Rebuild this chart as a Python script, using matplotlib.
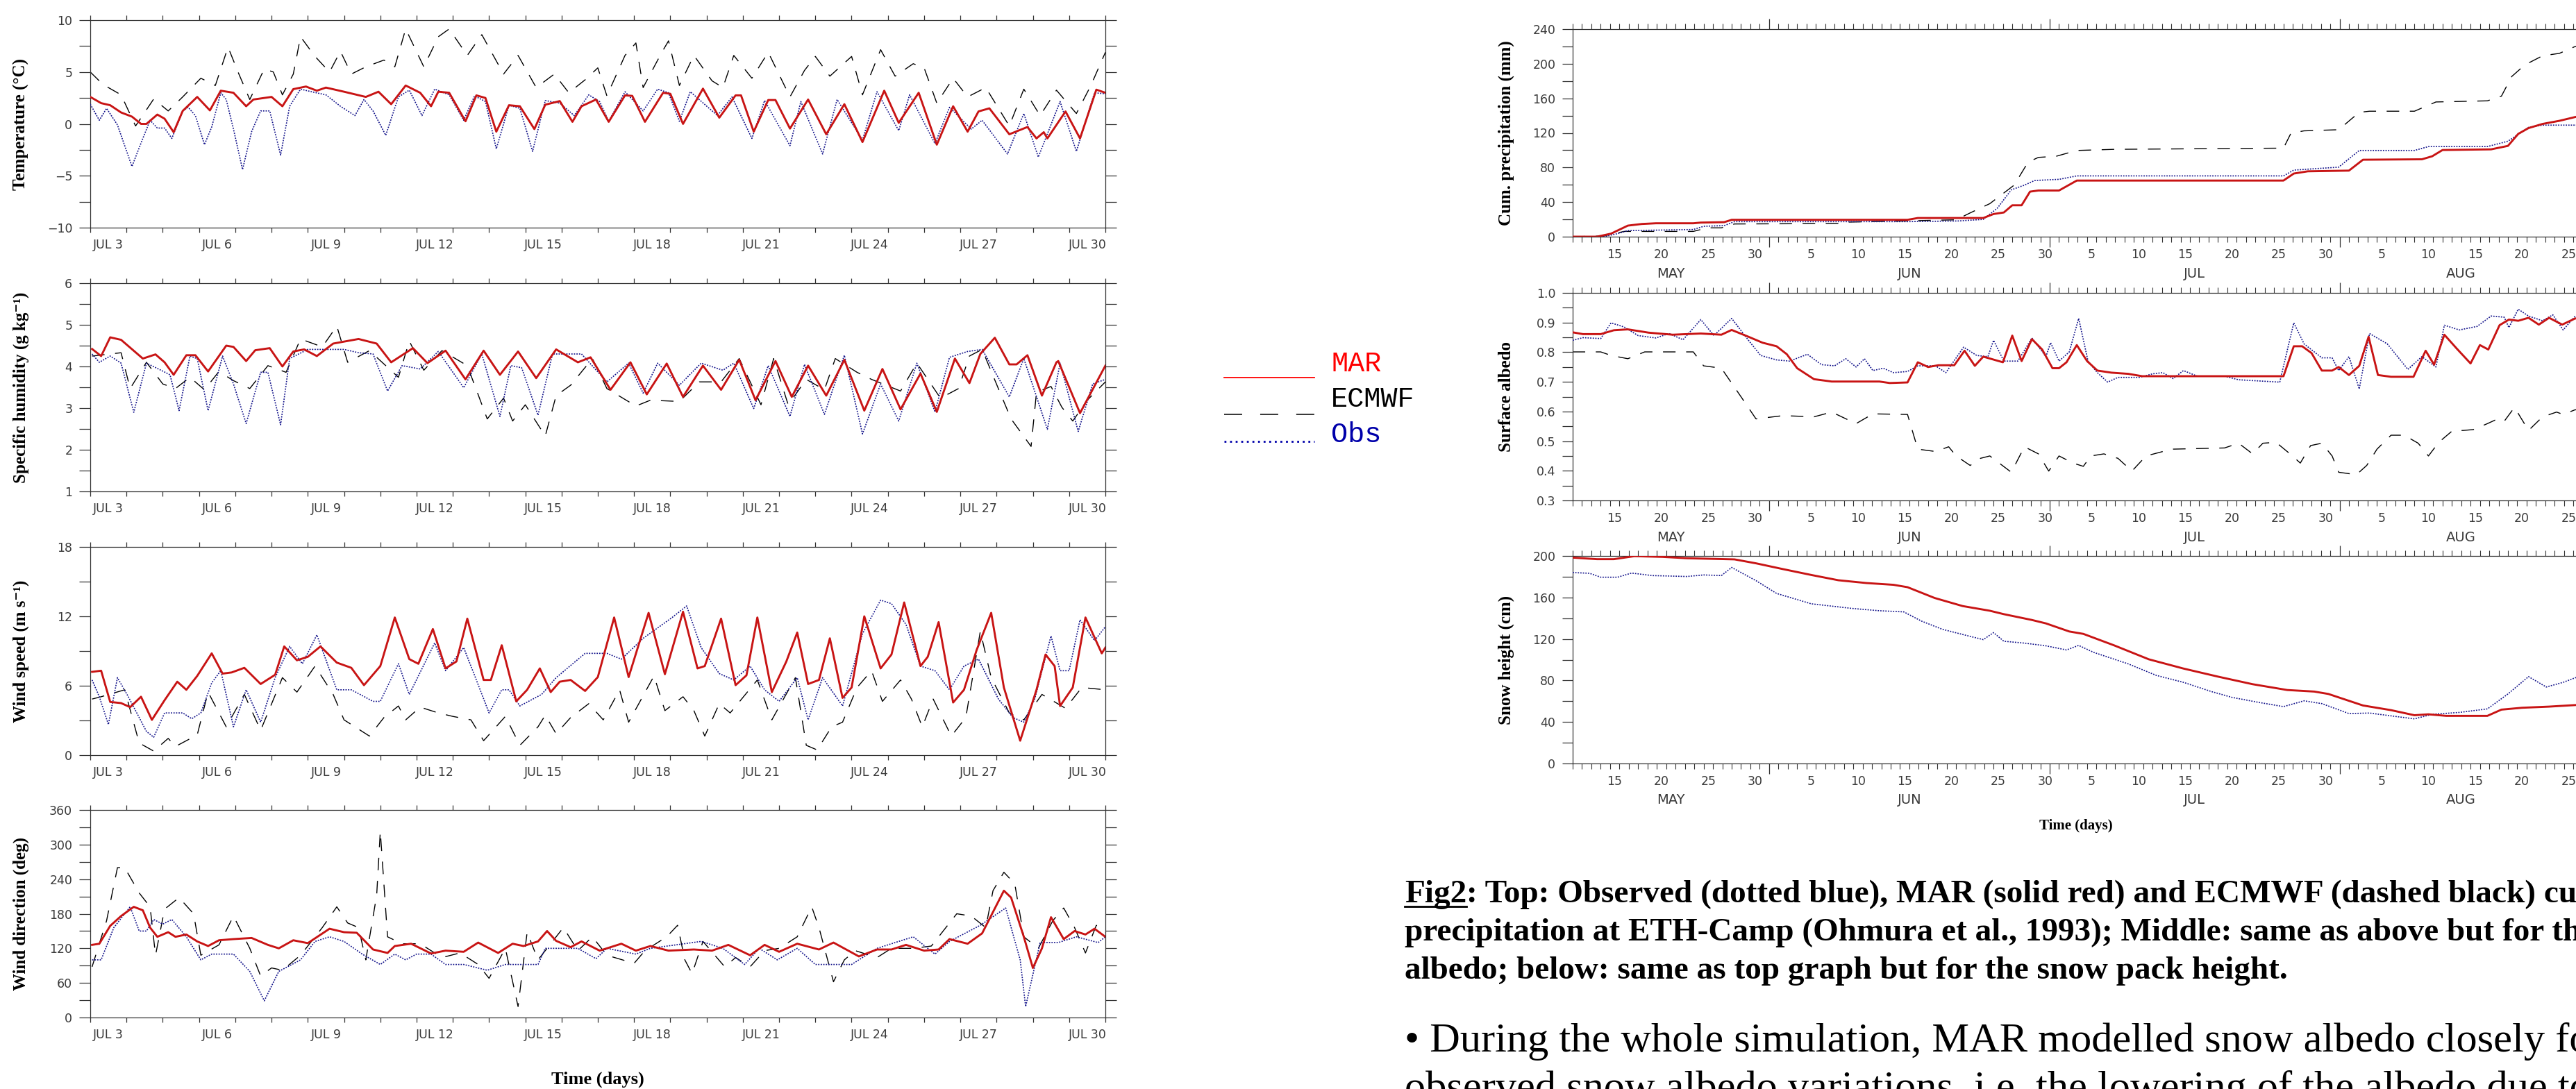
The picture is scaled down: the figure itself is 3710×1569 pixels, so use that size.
import matplotlib
matplotlib.use("Agg")
import matplotlib.pyplot as plt
from matplotlib.lines import Line2D
import numpy as np

# ---------------------------------------------------------------
# left column: July time series, (day of July, value)
# ---------------------------------------------------------------
temp_mar = [(3.0, 2.6), (3.3, 2.0), (3.55, 1.8), (3.85, 1.1), (4.15, 0.7), (4.4, 0.0), (4.55, 0.0),
            (4.85, 0.9), (5.05, 0.5), (5.3, -0.8), (5.55, 1.25), (5.95, 2.6), (6.3, 1.3), (6.6, 3.2),
            (6.95, 3.0), (7.3, 1.7), (7.5, 2.35), (8.0, 2.6), (8.3, 1.7), (8.6, 3.35), (8.95, 3.6),
            (9.25, 3.2), (9.5, 3.5), (10.0, 3.1), (10.6, 2.6), (10.95, 3.1), (11.3, 1.9), (11.7, 3.7),
            (12.1, 3.0), (12.4, 1.7), (12.6, 3.1), (12.9, 3.0), (13.35, 0.25), (13.65, 2.75), (13.9, 2.5),
            (14.2, -0.75), (14.55, 1.8), (14.85, 1.7), (15.25, -0.5), (15.55, 1.85), (15.95, 2.2),
            (16.3, 0.2), (16.55, 1.7), (16.95, 2.35), (17.3, 0.2), (17.75, 2.75), (17.95, 2.7),
            (18.3, 0.2), (18.8, 3.0), (19.0, 2.9), (19.35, 0.0), (19.9, 3.4), (20.35, 0.6), (20.8, 2.75),
            (20.95, 2.75), (21.3, -0.75), (21.7, 2.3), (21.9, 2.3), (22.3, -0.45), (22.8, 2.35),
            (23.3, -1.0), (23.8, 1.9), (24.3, -1.75), (24.9, 3.2), (25.3, 0.1), (25.85, 3.0), (26.35, -2.0),
            (26.8, 1.7), (27.2, -0.75), (27.5, 1.2), (27.8, 1.5), (28.35, -1.0), (28.85, -0.3),
            (29.1, -1.4), (29.3, -0.8), (29.4, -1.4), (29.9, 1.2), (30.3, -1.4), (30.75, 3.3), (31.0, 3.0)]
temp_obs = [(3.0, 1.9), (3.25, 0.35), (3.45, 1.5), (3.75, -0.1), (4.15, -4.1), (4.45, -1.4), (4.65, 0.35),
            (4.85, -0.4), (5.05, -0.4), (5.25, -1.4), (5.55, 1.25), (5.7, 1.6), (5.9, 0.8), (6.15, -2.0),
            (6.35, -0.3), (6.6, 3.0), (6.75, 2.35), (6.95, -0.5), (7.2, -4.4), (7.45, -0.75), (7.7, 1.25),
            (7.95, 1.25), (8.25, -3.0), (8.5, 1.7), (8.8, 3.35), (9.1, 3.1), (9.5, 2.8), (9.9, 1.7),
            (10.3, 0.8), (10.55, 2.35), (10.8, 1.25), (11.15, -1.1), (11.5, 2.6), (11.8, 3.25), (12.15, 0.8),
            (12.5, 3.35), (12.9, 2.8), (13.3, 0.35), (13.6, 2.7), (13.9, 2.15), (14.2, -2.4), (14.55, 1.8),
            (14.85, 1.5), (15.2, -2.65), (15.55, 2.25), (15.95, 2.0), (16.35, 0.8), (16.75, 2.8),
            (17.05, 2.15), (17.3, 0.25), (17.75, 3.1), (18.25, 1.25), (18.65, 3.35), (18.95, 3.0),
            (19.25, 0.25), (19.55, 3.1), (20.3, 0.8), (20.7, 2.6), (21.25, -1.4), (21.6, 2.25), (22.3, -2.1),
            (22.6, 2.15), (23.2, -2.9), (23.6, 2.35), (24.3, -1.55), (24.7, 3.1), (25.3, -0.65), (25.6, 2.8),
            (26.3, -1.9), (26.7, 1.6), (27.3, -0.5), (27.6, 0.35), (28.3, -2.9), (28.75, 1.0), (29.15, -3.2),
            (29.75, 2.15), (30.2, -2.65), (30.7, 3.0), (31.0, 2.9)]
temp_ecmwf = [(3.0, 5.0), (3.35, 3.8), (3.85, 2.8), (4.25, -0.2), (4.75, 2.4), (5.15, 1.25), (5.55, 2.6),
              (6.05, 4.4), (6.45, 3.7), (6.8, 7.4), (7.1, 4.8), (7.4, 2.35), (7.8, 5.3), (8.05, 5.0),
              (8.3, 2.8), (8.6, 4.8), (8.8, 8.4), (9.2, 6.5), (9.6, 5.0), (9.9, 7.0), (10.2, 4.8), (10.6, 5.5),
              (11.1, 6.15), (11.4, 5.5), (11.7, 9.15), (12.2, 5.5), (12.6, 8.4), (12.9, 9.15), (13.4, 6.6),
              (13.8, 8.6), (14.4, 4.8), (14.8, 6.6), (15.3, 3.5), (15.8, 4.8), (16.2, 3.0), (16.65, 4.25),
              (17.0, 5.4), (17.25, 2.7), (17.75, 6.6), (18.05, 7.8), (18.25, 3.5), (18.75, 6.8), (18.95, 8.0),
              (19.25, 3.7), (19.65, 6.6), (20.15, 4.15), (20.45, 3.5), (20.75, 6.6), (21.25, 4.4), (21.7, 6.9),
              (22.3, 2.6), (22.7, 5.15), (23.0, 6.5), (23.4, 4.6), (24.0, 6.5), (24.3, 2.8), (24.8, 7.15),
              (25.2, 4.6), (25.7, 5.8), (26.0, 5.4), (26.35, 2.0), (26.8, 4.4), (27.2, 2.6), (27.7, 3.5),
              (28.35, -0.2), (28.75, 3.35), (29.2, 0.8), (29.65, 3.25), (30.2, 1.0), (30.6, 3.7), (31.0, 6.9)]

hum_mar = [(3.05, 4.42), (3.3, 4.25), (3.55, 4.7), (3.85, 4.64), (4.45, 4.19), (4.8, 4.29), (5.05, 4.1),
           (5.3, 3.8), (5.65, 4.27), (5.9, 4.27), (6.25, 3.88), (6.75, 4.5), (6.95, 4.47), (7.3, 4.13),
           (7.55, 4.39), (7.95, 4.44), (8.3, 4.0), (8.6, 4.36), (8.9, 4.41), (9.25, 4.25), (9.7, 4.55),
           (10.4, 4.66), (10.9, 4.55), (11.3, 4.1), (11.9, 4.44), (12.3, 4.08), (12.8, 4.38), (13.35, 3.69),
           (13.85, 4.38), (14.3, 3.8), (14.8, 4.36), (15.3, 3.72), (15.85, 4.41), (16.45, 4.1), (16.8, 4.22),
           (17.35, 3.44), (17.9, 4.1), (18.35, 3.33), (18.9, 4.07), (19.35, 3.27), (19.9, 4.02),
           (20.4, 3.44), (20.9, 4.16), (21.35, 3.19), (21.9, 4.13), (22.35, 3.27), (22.8, 4.02),
           (23.3, 3.3), (23.8, 4.16), (24.35, 2.94), (24.85, 3.94), (25.35, 2.97), (25.9, 3.83),
           (26.35, 2.91), (26.85, 4.19), (27.25, 3.6), (27.55, 4.3), (27.95, 4.69), (28.35, 4.05),
           (28.55, 4.05), (28.85, 4.27), (29.25, 3.3), (29.65, 4.1), (29.7, 4.13), (30.3, 2.88), (31.0, 4.02)]
hum_obs = [(3.05, 4.3), (3.25, 4.1), (3.55, 4.25), (3.85, 4.08), (4.2, 2.9), (4.55, 4.08), (4.95, 3.91),
           (5.2, 3.8), (5.45, 2.94), (5.75, 4.25), (5.95, 4.19), (6.25, 2.94), (6.65, 4.25), (6.95, 3.58),
           (7.3, 2.63), (7.7, 3.86), (7.9, 3.86), (8.25, 2.6), (8.5, 4.19), (9.0, 4.41), (10.0, 4.41),
           (10.4, 4.33), (10.8, 4.3), (11.2, 3.41), (11.6, 4.02), (12.1, 3.94), (12.6, 4.36), (13.3, 3.49),
           (13.8, 4.3), (14.3, 2.8), (14.6, 4.02), (14.9, 3.97), (15.35, 2.83), (15.75, 4.3), (16.55, 4.3),
           (17.25, 3.63), (17.85, 4.08), (18.25, 3.36), (18.65, 4.08), (19.25, 3.55), (19.85, 4.08),
           (20.45, 3.91), (20.75, 4.08), (21.3, 2.99), (21.7, 4.02), (22.3, 2.8), (22.7, 4.05), (23.25, 2.85),
           (23.8, 4.27), (24.3, 2.38), (24.8, 3.58), (25.3, 2.69), (25.8, 4.08), (26.3, 2.91), (26.7, 4.22),
           (27.2, 4.36), (27.6, 4.41), (28.35, 3.27), (28.75, 4.19), (29.4, 2.49), (29.75, 4.08),
           (30.25, 2.44), (30.65, 3.58), (31.0, 3.69)]
hum_ecmwf = [(3.05, 4.25), (3.85, 4.33), (4.1, 3.47), (4.55, 4.1), (5.0, 3.58), (5.35, 3.47), (5.75, 3.74),
             (6.15, 3.44), (6.55, 3.88), (6.95, 3.66), (7.4, 3.47), (7.9, 4.02), (8.4, 3.86), (8.8, 4.66),
             (9.4, 4.47), (9.8, 4.97), (10.1, 4.1), (10.7, 4.38), (11.5, 3.74), (11.8, 4.61), (12.2, 3.91),
             (12.7, 4.38), (13.4, 4.02), (13.95, 2.74), (14.4, 3.24), (14.65, 2.69), (15.0, 3.08),
             (15.55, 2.33), (15.85, 3.3), (16.25, 3.55), (16.85, 4.19), (17.25, 3.47), (18.05, 3.05),
             (18.45, 3.19), (19.25, 3.16), (19.8, 3.63), (20.4, 3.63), (20.9, 4.19), (21.5, 3.08),
             (21.85, 4.19), (22.25, 3.08), (22.75, 3.69), (23.25, 3.44), (23.55, 4.19), (24.15, 3.86),
             (24.55, 3.69), (24.95, 3.55), (25.35, 3.41), (25.8, 4.08), (26.45, 3.24), (26.95, 3.47),
             (27.25, 4.25), (27.6, 4.41), (28.1, 3.36), (28.4, 2.74), (28.95, 2.08), (29.1, 3.38),
             (29.5, 3.52), (29.8, 3.02), (30.1, 2.69), (30.5, 3.19), (31.0, 3.63)]

wspd_mar = [(3.05, 7.2), (3.3, 7.3), (3.55, 4.6), (3.85, 4.5), (4.1, 4.15), (4.4, 5.05), (4.7, 3.05),
            (5.05, 4.75), (5.4, 6.35), (5.65, 5.65), (5.95, 6.85), (6.35, 8.8), (6.65, 7.05), (6.9, 7.15),
            (7.25, 7.55), (7.7, 6.15), (8.1, 6.95), (8.35, 9.4), (8.7, 8.2), (9.0, 8.5), (9.35, 9.4),
            (9.8, 8.0), (10.2, 7.55), (10.55, 6.05), (11.0, 7.7), (11.4, 11.9), (11.8, 8.3), (12.05, 7.9),
            (12.45, 10.9), (12.8, 7.5), (13.1, 8.1), (13.4, 11.8), (13.85, 6.5), (14.05, 6.5), (14.35, 9.5),
            (14.75, 4.65), (15.05, 5.65), (15.4, 7.5), (15.7, 5.45), (15.95, 6.35), (16.25, 6.5),
            (16.65, 5.55), (17.0, 6.75), (17.45, 11.9), (17.85, 6.75), (18.4, 12.3), (18.85, 7.0),
            (19.35, 12.4), (19.75, 7.5), (19.95, 7.7), (20.4, 11.8), (20.8, 6.05), (21.1, 6.9), (21.4, 11.9),
            (21.8, 5.45), (22.2, 8.1), (22.5, 10.6), (22.8, 6.15), (23.1, 6.5), (23.4, 10.1), (23.75, 4.95),
            (24.0, 5.85), (24.35, 12.0), (24.8, 7.5), (25.1, 8.7), (25.45, 13.2), (25.9, 7.7), (26.1, 8.5),
            (26.4, 11.5), (26.8, 4.55), (27.1, 5.65), (27.45, 9.1), (27.85, 12.3), (28.2, 5.85),
            (28.65, 1.25), (29.1, 5.65), (29.35, 8.7), (29.6, 7.7), (29.75, 4.25), (30.1, 5.85),
            (30.45, 11.9), (30.9, 8.8), (31.0, 9.3)]
wspd_obs = [(3.05, 6.5), (3.25, 5.05), (3.5, 2.65), (3.75, 6.7), (4.05, 5.05), (4.55, 2.05), (4.75, 1.55),
            (5.05, 3.65), (5.55, 3.65), (5.8, 3.15), (6.05, 3.65), (6.35, 6.25), (6.6, 7.3), (6.95, 2.45),
            (7.3, 5.65), (7.7, 2.85), (8.1, 6.7), (8.5, 9.4), (8.85, 7.9), (9.25, 10.4), (9.8, 5.65),
            (10.2, 5.65), (10.8, 4.65), (11.0, 4.65), (11.5, 7.9), (11.8, 5.25), (12.5, 9.7), (12.8, 7.3),
            (13.3, 9.3), (13.6, 6.9), (14.0, 3.65), (14.35, 5.65), (14.55, 5.65), (14.85, 4.25),
            (15.45, 5.25), (15.85, 6.7), (16.65, 8.8), (17.25, 8.8), (17.65, 8.3), (18.25, 10.1),
            (19.05, 11.9), (19.45, 12.9), (19.85, 9.3), (20.35, 7.05), (20.75, 6.5), (21.2, 7.7),
            (21.6, 5.65), (22.0, 4.65), (22.5, 6.7), (22.8, 3.05), (23.2, 6.7), (23.75, 4.25), (24.3, 10.5),
            (24.8, 13.4), (25.1, 13.1), (25.5, 11.3), (25.9, 7.7), (26.3, 7.3), (26.7, 5.65), (27.1, 7.7),
            (27.5, 8.3), (28.05, 4.85), (28.45, 3.25), (28.75, 2.85), (29.05, 4.85), (29.5, 10.3),
            (29.75, 7.3), (30.0, 7.3), (30.3, 11.7), (30.7, 9.9), (31.0, 11.1)]
wspd_ecmwf = [(3.05, 4.85), (3.3, 5.05), (3.95, 5.65), (4.35, 1.05), (4.75, 0.35), (5.15, 1.45),
              (5.35, 0.75), (5.95, 1.75), (6.25, 5.45), (6.75, 2.45), (7.25, 5.25), (7.7, 2.15), (8.3, 6.7),
              (8.7, 5.45), (9.2, 7.7), (9.7, 5.25), (10.0, 3.05), (10.7, 1.65), (11.1, 3.25), (11.5, 4.25),
              (11.7, 3.05), (12.1, 4.15), (12.6, 3.65), (13.0, 3.35), (13.5, 3.05), (13.85, 1.25),
              (14.45, 3.35), (14.85, 0.85), (15.35, 2.45), (15.55, 3.45), (15.85, 1.85), (16.25, 3.25),
              (16.75, 4.45), (17.15, 3.05), (17.6, 5.65), (17.85, 2.85), (18.55, 6.85), (18.85, 3.85),
              (19.35, 5.05), (19.65, 3.85), (19.95, 1.65), (20.35, 4.45), (20.65, 3.65), (21.4, 6.5),
              (21.8, 3.05), (22.45, 6.7), (22.75, 0.85), (23.05, 0.45), (23.45, 2.45), (23.75, 2.85),
              (24.15, 5.85), (24.55, 7.3), (24.85, 4.65), (25.35, 6.5), (25.65, 4.85), (25.95, 2.45),
              (26.25, 4.85), (26.75, 1.65), (27.15, 3.25), (27.55, 10.7), (27.85, 6.7), (28.35, 3.65),
              (28.75, 3.05), (29.25, 5.25), (29.9, 4.05), (30.35, 5.85), (31.0, 5.65)]

wdir_mar = [(3.05, 126), (3.25, 128), (3.55, 159), (3.85, 176), (4.2, 192), (4.45, 186), (4.65, 156),
            (4.85, 140), (5.15, 148), (5.35, 140), (5.65, 144), (5.95, 132), (6.25, 124), (6.55, 134),
            (6.95, 136), (7.45, 138), (7.9, 126), (8.2, 120), (8.6, 134), (9.0, 129), (9.6, 154), (10.0, 148),
            (10.35, 147), (10.8, 118), (11.2, 112), (11.4, 124), (11.85, 128), (12.4, 111), (12.8, 116),
            (13.3, 114), (13.7, 130), (14.25, 112), (14.65, 128), (14.95, 124), (15.35, 132), (15.6, 150),
            (15.85, 133), (16.25, 122), (16.55, 132), (17.05, 116), (17.65, 128), (18.05, 116), (18.45, 124),
            (18.95, 116), (19.65, 118), (20.15, 116), (20.6, 126), (21.2, 108), (21.6, 126), (22.0, 114),
            (22.5, 128), (23.1, 118), (23.5, 130), (24.2, 106), (24.7, 118), (25.1, 118), (25.5, 126),
            (26.0, 116), (26.4, 118), (26.7, 136), (27.2, 128), (27.6, 146), (28.2, 220), (28.4, 208),
            (28.75, 140), (29.0, 86), (29.25, 120), (29.5, 174), (29.85, 136), (30.15, 150), (30.45, 144),
            (30.7, 154), (31.0, 140)]
wdir_obs = [(3.05, 100), (3.3, 100), (3.65, 156), (4.1, 192), (4.35, 150), (4.55, 150), (4.75, 170),
            (5.0, 162), (5.25, 170), (5.65, 140), (6.05, 100), (6.35, 110), (6.95, 110), (7.4, 80), (7.8, 29),
            (8.2, 80), (8.8, 100), (9.2, 132), (9.6, 140), (10.0, 132), (10.5, 110), (11.0, 92), (11.4, 110),
            (11.7, 100), (12.0, 110), (12.4, 110), (12.8, 92), (13.3, 92), (13.95, 82), (14.45, 92),
            (15.35, 92), (15.55, 120), (16.45, 120), (16.95, 102), (17.25, 120), (18.05, 110), (18.45, 120),
            (19.85, 132), (20.45, 120), (21.05, 92), (21.45, 120), (21.95, 100), (22.5, 120), (23.0, 92),
            (24.0, 92), (24.7, 120), (25.7, 140), (26.3, 110), (26.7, 132), (27.55, 160), (28.25, 190),
            (28.65, 100), (28.8, 19), (29.2, 130), (29.7, 130), (30.2, 140), (30.8, 130), (31.0, 140)]
wdir_ecmwf = [(3.05, 88), (3.45, 168), (3.75, 260), (3.95, 260), (4.35, 216), (4.65, 192), (4.8, 108),
              (5.05, 188), (5.45, 208), (5.85, 180), (6.05, 108), (6.55, 126), (6.95, 176), (7.4, 120),
              (7.7, 72), (8.0, 86), (8.3, 82), (8.8, 108), (9.4, 156), (9.8, 192), (10.1, 164), (10.4, 156),
              (10.6, 100), (10.9, 212), (11.0, 323), (11.2, 140), (11.6, 128), (12.1, 128), (12.7, 104),
              (13.2, 112), (13.7, 92), (14.0, 68), (14.45, 120), (14.8, 19), (15.05, 148), (15.35, 100),
              (16.05, 156), (16.45, 116), (16.85, 140), (17.25, 108), (18.0, 94), (18.3, 116), (18.9, 140),
              (19.2, 160), (19.4, 100), (19.6, 76), (19.9, 132), (20.5, 88), (20.8, 104), (21.2, 88),
              (21.6, 116), (22.0, 120), (22.5, 140), (22.9, 192), (23.1, 156), (23.5, 62), (23.8, 100),
              (24.1, 116), (24.7, 104), (25.1, 120), (25.7, 120), (26.2, 124), (26.7, 164), (26.9, 180),
              (27.3, 176), (27.7, 156), (27.9, 220), (28.2, 252), (28.5, 232), (28.75, 140), (29.15, 120),
              (29.55, 168), (29.85, 190), (30.15, 156), (30.45, 112), (30.75, 160), (31.0, 148)]

# ---------------------------------------------------------------
# right column: May-August series, (days since May 1, value)
# ---------------------------------------------------------------
prec_mar = [(10, 0), (12.6, 0), (14.1, 3.5), (15.9, 12.8), (17.4, 14.7), (18.9, 15.5), (22.9, 15.5),
            (23.7, 16.3), (26.2, 16.8), (27.0, 19.5), (45.8, 19.5), (46.9, 21.6), (53.9, 21.6), (55.0, 26.2),
            (56.1, 28.0), (57.0, 36.3), (58.0, 36.3), (58.9, 52.1), (59.8, 53.4), (62.0, 53.4), (63.9, 64.9),
            (86.0, 64.9), (87.1, 73.0), (88.6, 75.6), (93.0, 76.4), (94.5, 89.0), (100.8, 89.5),
            (101.9, 93.0), (103.0, 100.2), (108.2, 101.0), (110.0, 105.0), (111.1, 118.9), (112.2, 125.6),
            (113.7, 130.4), (115.5, 134.0), (117.2, 138.4), (118.0, 140.0)]
prec_obs = [(10, 0), (13.3, 0), (14.8, 3.5), (15.9, 7.0), (22.9, 8.3), (24.0, 12.0), (26.2, 12.8),
            (27.3, 17.4), (45.8, 17.4), (51.3, 18.2), (53.9, 20.0), (55.4, 32.9), (56.9, 54.2),
            (58.3, 59.6), (59.4, 65.0), (62.0, 66.3), (63.9, 70.3), (86.0, 70.3), (87.1, 77.0),
            (91.9, 80.4), (94.1, 99.7), (100.0, 99.7), (101.5, 104.2), (107.8, 104.2), (110.0, 110.4),
            (111.1, 118.4), (112.2, 126.4), (113.7, 129.0), (118.0, 129.0)]
prec_ecmwf = [(10, 0), (13.3, 0.8), (15.5, 6.1), (22.9, 6.1), (24.4, 10.2), (25.9, 10.2), (27.3, 14.7),
              (38.4, 15.2), (39.2, 16.8), (51.0, 19.5), (52.5, 27.5), (54.6, 38.2), (57.2, 59.6),
              (58.7, 86.3), (59.8, 91.7), (61.7, 93.0), (63.9, 99.7), (67.9, 101.0), (86.0, 102.4),
              (86.8, 119.7), (88.2, 122.4), (91.9, 123.7), (94.1, 143.8), (95.2, 145.1), (100.0, 145.1),
              (102.3, 155.8), (107.8, 157.1), (109.3, 162.5), (110.4, 185.2), (111.8, 198.6),
              (113.7, 209.2), (115.5, 212.0), (117.2, 220.0), (118.0, 222.0)]

alb_mar = [(10, 0.867), (11.1, 0.861), (13.0, 0.861), (14.4, 0.874), (15.9, 0.877), (18.1, 0.866),
           (20.7, 0.859), (23.7, 0.863), (25.9, 0.859), (27.0, 0.875), (28.8, 0.852), (30.3, 0.832),
           (31.8, 0.82), (32.9, 0.793), (34.0, 0.746), (35.8, 0.709), (37.7, 0.701), (42.8, 0.701),
           (43.9, 0.696), (45.8, 0.698), (46.9, 0.766), (48.0, 0.75), (49.1, 0.756), (50.8, 0.756),
           (51.9, 0.805), (53.0, 0.754), (53.9, 0.785), (56.0, 0.766), (57.0, 0.856), (58.0, 0.77),
           (59.1, 0.844), (60.2, 0.809), (61.3, 0.746), (62.0, 0.746), (62.8, 0.766), (63.9, 0.824),
           (65.0, 0.77), (66.1, 0.738), (67.6, 0.731), (69.4, 0.727), (70.9, 0.719), (86.0, 0.719),
           (87.1, 0.82), (88.0, 0.82), (89.0, 0.797), (90.1, 0.738), (91.2, 0.738), (91.9, 0.75),
           (93.0, 0.723), (94.1, 0.754), (95.1, 0.852), (96.1, 0.723), (97.5, 0.717), (99.9, 0.717),
           (101.2, 0.805), (102.1, 0.758), (103.2, 0.859), (104.5, 0.813), (106.0, 0.762), (107.0, 0.824),
           (107.9, 0.809), (109.1, 0.891), (110.1, 0.91), (111.1, 0.906), (112.2, 0.916), (113.3, 0.893),
           (114.4, 0.916), (115.8, 0.893), (117.2, 0.914), (118.0, 0.91)]
alb_obs = [(10, 0.84), (11.1, 0.849), (13.0, 0.846), (14.1, 0.899), (15.5, 0.885), (17.0, 0.856),
           (18.9, 0.848), (20.3, 0.863), (21.8, 0.842), (23.7, 0.91), (25.1, 0.856), (27.0, 0.914),
           (28.8, 0.84), (30.1, 0.789), (31.8, 0.774), (33.2, 0.77), (35.1, 0.793), (36.6, 0.758),
           (38.0, 0.754), (39.2, 0.778), (40.3, 0.75), (41.2, 0.778), (42.1, 0.738), (43.2, 0.746),
           (44.3, 0.731), (45.8, 0.735), (46.9, 0.754), (48.8, 0.754), (49.9, 0.731), (51.8, 0.817),
           (53.2, 0.789), (54.4, 0.785), (55.0, 0.84), (56.1, 0.77), (57.6, 0.77), (59.1, 0.848),
           (60.6, 0.785), (61.1, 0.832), (62.0, 0.77), (63.1, 0.801), (64.1, 0.914), (65.1, 0.77),
           (66.1, 0.731), (67.2, 0.699), (68.3, 0.715), (70.6, 0.715), (72.0, 0.727), (73.1, 0.731),
           (74.2, 0.711), (75.3, 0.738), (76.8, 0.719), (79.7, 0.719), (81.2, 0.707), (83.4, 0.703),
           (85.6, 0.699), (87.1, 0.899), (88.2, 0.828), (90.1, 0.781), (91.2, 0.781), (91.9, 0.738),
           (93.0, 0.785), (94.1, 0.676), (95.2, 0.863), (97.1, 0.828), (98.2, 0.785), (99.3, 0.742),
           (100.8, 0.785), (102.3, 0.75), (103.2, 0.891), (104.8, 0.875), (106.7, 0.887), (108.2, 0.922),
           (109.6, 0.918), (110.1, 0.883), (111.1, 0.945), (112.2, 0.922), (113.7, 0.906), (114.8, 0.926),
           (115.9, 0.875), (117.2, 0.922), (118.0, 0.92)]
alb_ecmwf = [(10, 0.801), (13.0, 0.801), (14.1, 0.789), (15.9, 0.778), (17.7, 0.801), (22.9, 0.801),
             (24.0, 0.754), (25.9, 0.746), (28.1, 0.645), (29.6, 0.575), (32.5, 0.586), (35.8, 0.582),
             (37.7, 0.598), (40.3, 0.559), (42.1, 0.592), (45.8, 0.59), (46.9, 0.473), (48.8, 0.465),
             (50.2, 0.481), (51.0, 0.45), (52.5, 0.418), (53.6, 0.442), (54.6, 0.45), (56.9, 0.395),
             (58.3, 0.481), (59.8, 0.457), (60.9, 0.399), (62.0, 0.45), (63.5, 0.426), (64.6, 0.415),
             (65.4, 0.45), (66.8, 0.457), (68.3, 0.442), (69.8, 0.399), (71.3, 0.45), (73.1, 0.465),
             (74.2, 0.473), (79.7, 0.477), (81.2, 0.493), (82.7, 0.457), (83.8, 0.493), (85.2, 0.496),
             (86.7, 0.457), (87.8, 0.426), (88.9, 0.485), (90.1, 0.493), (91.2, 0.45), (91.9, 0.395),
             (93.8, 0.387), (94.9, 0.418), (96.0, 0.473), (97.5, 0.52), (98.9, 0.52), (100.4, 0.493),
             (101.5, 0.45), (102.6, 0.496), (104.1, 0.536), (105.2, 0.536), (106.3, 0.539), (107.8, 0.559),
             (108.9, 0.575), (109.6, 0.567), (110.7, 0.614), (112.2, 0.536), (113.7, 0.582), (115.2, 0.598),
             (115.9, 0.59), (117.2, 0.606), (118.0, 0.6)]

snow_mar = [(10, 198.4), (12.6, 196.9), (14.4, 196.9), (16.6, 199.8), (19.6, 199.1), (22.2, 197.8),
            (27.3, 196.7), (29.6, 192.9), (32.5, 187.3), (35.5, 181.7), (38.4, 176.6), (41.4, 173.9),
            (44.3, 172.2), (45.8, 169.9), (48.7, 159.5), (51.7, 151.7), (54.6, 147.2), (56.1, 143.9),
            (59.1, 138.3), (60.6, 135.0), (63.1, 127.2), (64.6, 124.9), (67.9, 113.8), (71.6, 100.4),
            (75.3, 91.5), (79.0, 83.7), (82.7, 76.4), (86.4, 70.8), (89.3, 69.3), (90.8, 67.0), (94.5, 55.9),
            (97.5, 51.4), (100.0, 46.5), (101.5, 47.4), (103.4, 45.9), (107.8, 45.9), (109.3, 51.9),
            (111.5, 53.7), (114.4, 54.8), (117.2, 56.3), (118.0, 56.8)]
snow_obs = [(10, 184.0), (11.8, 183.3), (13.0, 179.5), (14.8, 179.5), (16.3, 183.5), (18.5, 181.1),
            (22.2, 180.2), (24.0, 181.7), (25.9, 181.1), (27.0, 188.9), (29.6, 176.2), (31.8, 163.9),
            (35.5, 153.9), (39.9, 149.4), (42.8, 147.2), (45.4, 146.1), (47.3, 137.2), (49.5, 129.4),
            (52.4, 122.7), (53.9, 119.4), (55.0, 126.1), (56.1, 117.8), (58.3, 116.0), (60.6, 113.4),
            (62.8, 109.4), (64.1, 113.8), (65.7, 107.1), (69.4, 96.0), (72.4, 84.9), (75.3, 78.2),
            (78.3, 69.3), (80.5, 63.7), (83.4, 58.8), (86.0, 54.8), (88.2, 60.4), (90.1, 57.7), (93.0, 48.1),
            (95.2, 48.6), (97.5, 45.9), (100.0, 43.0), (101.9, 47.4), (104.8, 49.2), (107.8, 52.6),
            (110.0, 67.0), (112.2, 83.7), (114.1, 73.7), (115.9, 78.2), (117.2, 82.6), (118.0, 84.0)]

left_labels = ["JUL %d" % d for d in range(3, 31, 3)]
month_names = ["MAY", "JUN", "JUL", "AUG"]
month_starts = [0, 31, 61, 92, 123]

caption_lines = [
    ": Top: Observed (dotted blue), MAR (solid red) and ECMWF (dashed black) cumulative",
    "precipitation at ETH-Camp (Ohmura et al., 1993); Middle: same as above but for the surface",
    "albedo; below: same as top graph but for the snow pack height.",
]
body_lines = [
    "\u2022 During the whole simulation, MAR modelled snow albedo closely followed the",
    "observed snow albedo variations, i.e. the lowering of the albedo due to the",
]

W, H = 3710, 1569
MAR_C, OBS_C, ECM_C = "#c81414", "#12128a", "black"
TICK_FONT = dict(family="DejaVu Sans", size=12.5, color="#3a3a3a")
LAB_FONT = dict(family=["Liberation Serif", "DejaVu Serif"], weight="bold", size=18)


def unzip(pairs):
    a = np.array(pairs, dtype=float)
    return a[:, 0], a[:, 1]


def box(x0, y0, x1, y1):
    # pixel box (top-left origin) -> figure fraction rect
    return [x0 / W, 1 - y1 / H, (x1 - x0) / W, (y1 - y0) / H]


def draw_series(ax, mar, ecmwf, obs):
    if ecmwf is not None:
        x, y = unzip(ecmwf)
        ax.plot(x, y, color=ECM_C, lw=1.0, ls=(0, (13, 11)), zorder=2)
    x, y = unzip(obs)
    ax.plot(x, y, color=OBS_C, lw=1.2, ls=(0, (1.1, 1.1)), zorder=3)
    x, y = unzip(mar)
    ax.plot(x, y, color=MAR_C, lw=2.1, zorder=4, solid_joinstyle="round")


def frame(ax):
    for s in ax.spines.values():
        s.set_linewidth(0.9)
        s.set_color("#333333")


fig = plt.figure(figsize=(W / 100, H / 100), dpi=100)

# ---------------- left column ----------------
left_rows = [(29, 328), (408, 708), (788, 1088), (1167, 1466)]
left_cfg = [
    (temp_mar, temp_ecmwf, temp_obs, (-10, 10), np.arange(-10, 11, 5), np.arange(-7.5, 10, 5),
     "Temperature (\u00b0C)"),
    (hum_mar, hum_ecmwf, hum_obs, (1, 6), np.arange(1, 7, 1), np.arange(1.5, 6, 1),
     "Specific humidity (g kg\u207b\u00b9)"),
    (wspd_mar, wspd_ecmwf, wspd_obs, (0, 18), np.arange(0, 19, 6), np.arange(3, 18, 6),
     "Wind speed (m s\u207b\u00b9)"),
    (wdir_mar, wdir_ecmwf, wdir_obs, (0, 360), np.arange(0, 361, 60), np.arange(30, 360, 60),
     "Wind direction (deg)"),
]
for (top, bot), (mar, ecm, obs, ylim, ymaj, ymin, ylab) in zip(left_rows, left_cfg):
    ax = fig.add_axes(box(130, top, 1592, bot))
    draw_series(ax, mar, ecm, obs)
    ax.set_xlim(3, 31)
    ax.set_ylim(*ylim)
    ax.set_xticks(np.arange(3, 32))
    ax.tick_params(axis="x", which="major", direction="out", length=5, width=0.9,
                   top=True, bottom=True, labelbottom=False, color="#333333")
    ax.set_yticks(ymaj)
    ax.set_yticks(ymin, minor=True)
    ax.tick_params(axis="y", which="both", direction="out", length=11.5, width=0.9,
                   left=True, right=True, pad=7, color="#333333")
    for lb in ax.get_yticklabels():
        lb.set(**TICK_FONT)
    for d, lbl in zip(range(3, 31, 3), left_labels):
        ax.text(d + 0.5, -25 / (bot - top), lbl, transform=ax.get_xaxis_transform(),
                ha="center", va="center", **TICK_FONT)
    ax.set_ylabel(ylab, fontdict=LAB_FONT)
    ax.yaxis.set_label_coords(-0.06, 0.5)
    frame(ax)

fig.text(861 / W, 1 - 1555 / H, "Time (days)", ha="center", va="center",
         family=["Liberation Serif", "DejaVu Serif"], weight="bold", size=19)

# ---------------- legend ----------------
leg_rows = [("MAR", "#ff0000", "-", 1.3, 544, 535),
            ("ECMWF", "black", (0, (17, 17)), 1.1, 597, 586),
            ("Obs", "#0000aa", (0, (1, 1.9)), 2.0, 636, 637)]
for name, col, ls, lw, ly, ty in leg_rows:
    fig.add_artist(Line2D([1763 / W, 1893 / W], [1 - ly / H, 1 - ly / H], color=col, ls=ls, lw=lw,
                          transform=fig.transFigure))
    fig.text(1917 / W, 1 - ty / H, name, color=col, family=["Liberation Mono", "DejaVu Sans Mono"],
             size=29, va="baseline", ha="left")

# ---------------- right column ----------------
right_rows = [(42, 341), (422, 721), (801, 1100)]
right_cfg = [
    (prec_mar, prec_ecmwf, prec_obs, (0, 240), np.arange(0, 241, 40), np.arange(20, 240, 40),
     "Cum. precipitation (mm)", None),
    (alb_mar, alb_ecmwf, alb_obs, (0.3, 1.0), np.arange(0.3, 1.01, 0.1), np.arange(0.35, 1.0, 0.1),
     "Surface albedo", "%.1f"),
    (snow_mar, None, snow_obs, (0, 200), np.arange(0, 201, 40), np.arange(20, 200, 40),
     "Snow height (cm)", None),
]
day_labels = []
for m0, ndays in ((0, 31), (31, 30), (61, 31), (92, 31)):
    for k in range(5, ndays + 1, 5):
        day_labels.append((m0 + k - 1 + 0.5, str(k)))
xmin, xmax = 10, 118
for (top, bot), (mar, ecm, obs, ylim, ymaj, ymin, ylab, fmt) in zip(right_rows, right_cfg):
    ax = fig.add_axes(box(2265, top, 2265 + (xmax - xmin) * 13.47, bot))
    draw_series(ax, mar, ecm, obs)
    ax.set_xlim(xmin, xmax)
    ax.set_ylim(*ylim)
    ax.set_xticks([m for m in month_starts if xmin < m < xmax])
    ax.set_xticks(np.arange(xmin, xmax + 1), minor=True)
    ax.tick_params(axis="x", which="major", direction="out", length=10.8, width=0.9,
                   top=True, bottom=True, labelbottom=False, color="#333333")
    ax.tick_params(axis="x", which="minor", direction="out", length=5.8, width=0.8,
                   top=True, bottom=True, color="#333333")
    ax.set_yticks(ymaj)
    ax.set_yticks(ymin, minor=True)
    if fmt:
        ax.set_yticklabels([fmt % v for v in ymaj])
    ax.tick_params(axis="y", which="both", direction="out", length=10.8, width=0.9,
                   left=True, right=True, pad=7, color="#333333")
    for lb in ax.get_yticklabels():
        lb.set(**TICK_FONT)
    hgt = bot - top
    for xd, s in day_labels:
        if xmin < xd < xmax + 1:
            ax.text(xd, -26 / hgt, s, transform=ax.get_xaxis_transform(), ha="center",
                    va="center", clip_on=False, **TICK_FONT)
    for i, nm in enumerate(month_names):
        a = max(month_starts[i], xmin)
        b = min(month_starts[i + 1], xmax)
        ax.text((a + b) / 2, -53 / hgt, nm, transform=ax.get_xaxis_transform(), ha="center",
                va="center", family="DejaVu Sans", size=14, color="#3a3a3a")
    ax.set_ylabel(ylab, fontdict=LAB_FONT)
    ax.yaxis.set_label_coords(-0.058, 0.5)
    frame(ax)

fig.text(2990 / W, 1 - 1190 / H, "Time (days)", ha="center", va="center",
         family=["Liberation Serif", "DejaVu Serif"], weight="bold", size=15)

# ---------------- caption and body text ----------------
renderer = fig.canvas.get_renderer()
cap_font = dict(family=["Liberation Serif", "DejaVu Serif"], weight="bold", size=34, va="baseline")
fig_t = fig.text(2023 / W, 1 - 1300 / H, "Fig2", **cap_font)
bb = fig_t.get_window_extent(renderer)
fig.add_artist(Line2D([bb.x0 / W, bb.x1 / W], [(1569 - 1306) / H] * 2, color="black", lw=2.0,
                      transform=fig.transFigure))
fig.text(bb.x1 / W, 1 - 1300 / H, caption_lines[0], **cap_font)
fig.text(2023 / W, 1 - 1355 / H, caption_lines[1], **cap_font)
fig.text(2023 / W, 1 - 1410 / H, caption_lines[2], **cap_font)

body_font = dict(family=["Liberation Serif", "DejaVu Serif"], size=43.5, va="baseline")
fig.text(2023 / W, 1 - 1515 / H, body_lines[0], **body_font)
fig.text(2023 / W, 1 - 1584 / H, body_lines[1], **body_font)

fig.savefig("out.png", dpi=100)
